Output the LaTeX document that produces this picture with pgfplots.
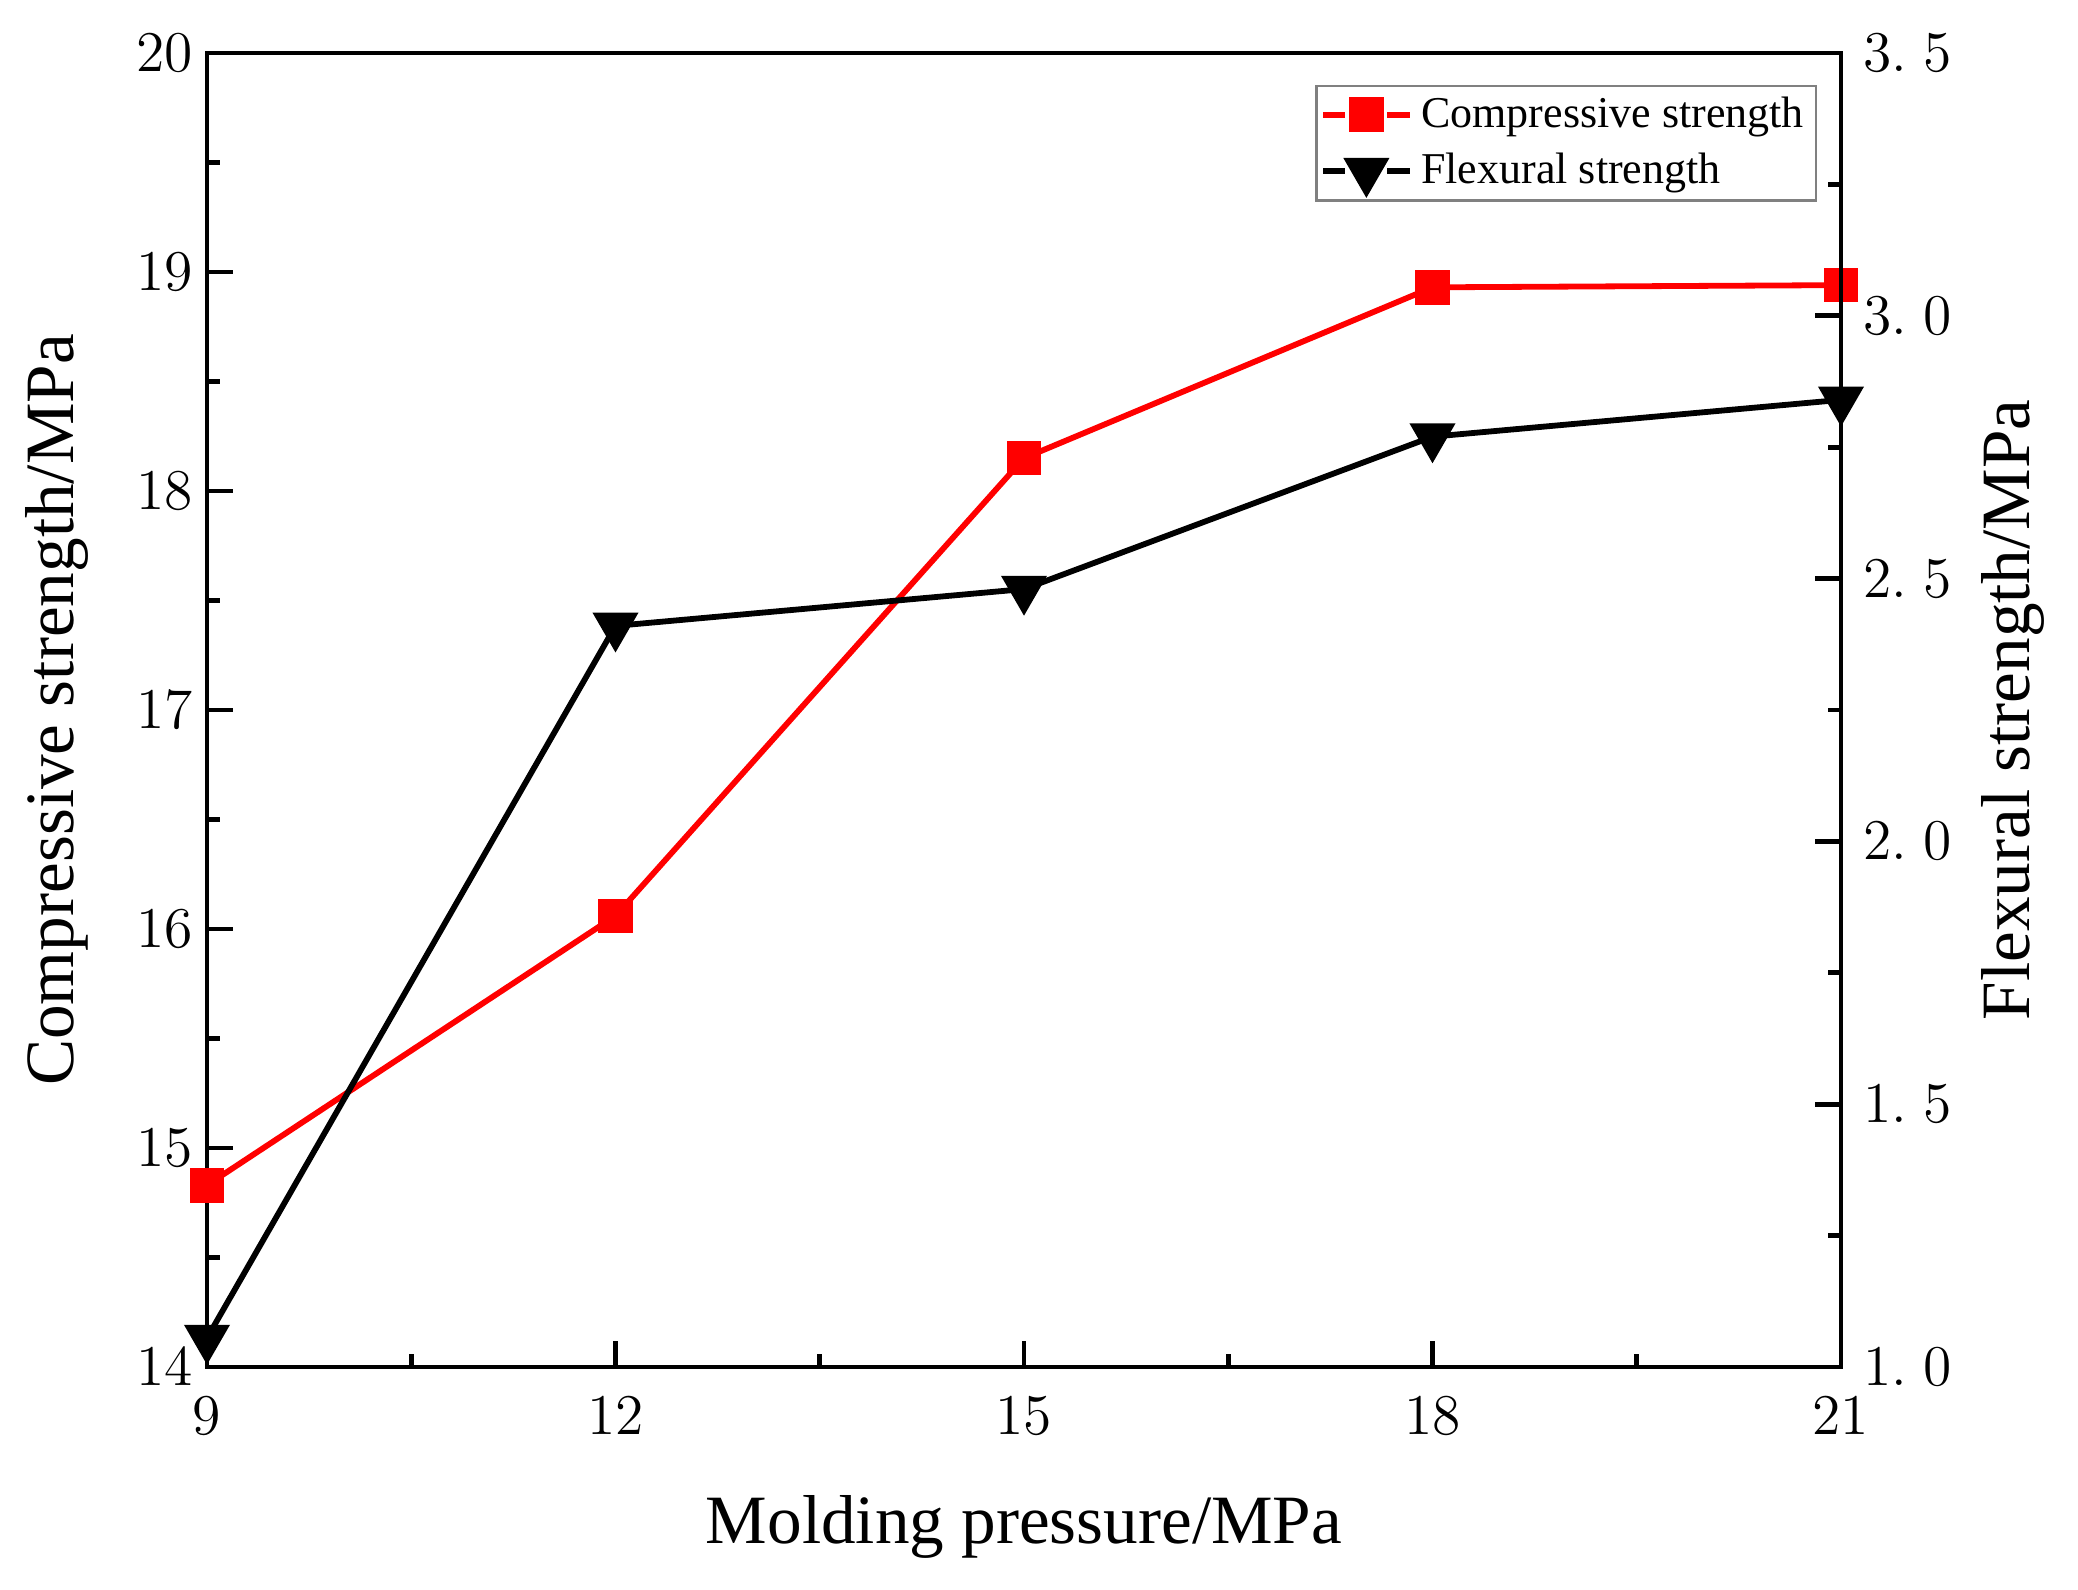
\documentclass[border=0pt]{standalone}
\usepackage{fontspec}
\setmainfont{Liberation Serif}
\usepackage{pgfplots}
\pgfplotsset{compat=1.18}
\begin{document}
\begin{tikzpicture}
\pgfplotsset{
  common/.style={
    scale only axis, width=408.5pt, height=328.5pt,
    xmin=9, xmax=21,
    axis line style={line width=1.2pt},
    every tick/.style={line width=1.2pt, black},
    major tick length=6.5pt, minor tick length=3.3pt,
    tick label style={font=\fontsize{14}{16}\selectfont},
    label style={font=\fontsize{17.3}{20}\selectfont},
    clip=false,
  },
  gapimg/.style={legend image code/.code={
    \draw[##1] (0pt,0pt) -- (5.5pt,0pt);
    \draw[##1] (16pt,0pt) -- (21.75pt,0pt);
    \draw[##1, only marks] plot coordinates {(10.75pt,0pt)};
  }},
}
\begin{axis}[common, name=main,
  ymin=14, ymax=20, ytick={14,...,20}, minor y tick num=1,
  xtick={9,12,15,18,21}, minor x tick num=1,
  tick pos=left, tick align=inside,
  xlabel={Molding pressure/MPa}, ylabel={Compressive strength/MPa},
  xlabel style={at={(axis description cs:0.5,-0.1218)}, anchor=center},
  ylabel style={at={(axis description cs:-0.0918,0.5)}, anchor=center},
  xticklabel style={yshift=-4pt},
]
\addplot[red, line width=1.45pt, mark=square*, mark size=3.6pt, mark options={solid}]
  coordinates {(9,14.83) (12,16.06) (15,18.15) (18,18.93) (21,18.94)};
\end{axis}
\begin{axis}[common, axis x line=none, axis y line*=right,
  ymin=1, ymax=3.5, ytick={1,1.5,2,2.5,3,3.5}, minor y tick num=1,
  tick align=inside,
  yticklabels={$1.\hskip0.3em0$,$1.\hskip0.3em5$,$2.\hskip0.3em0$,$2.\hskip0.3em5$,$3.\hskip0.3em0$,$3.\hskip0.3em5$},
  yticklabel style={xshift=2pt},
  ylabel={Flexural strength/MPa},
  ylabel style={at={(axis description cs:1.105,0.5)}, anchor=center},
  gapimg,
  legend style={at={(axis description cs:0.9853,0.976)}, anchor=north east,
    draw=gray, line width=0.6pt, font=\fontsize{11}{13}\selectfont,
    inner xsep=1pt, inner ysep=0.7pt, row sep=1pt, cells={anchor=west}},
]
\addlegendimage{red, line width=1.45pt, mark=square*, mark size=3.6pt, mark options={solid}}
\addlegendentry{Compressive strength}
\addplot[black, line width=1.45pt, mark=triangle*, mark size=5.2pt, mark options={solid, rotate=180}]
  coordinates {(9,1.055) (12,2.41) (15,2.48) (18,2.77) (21,2.84)};
\addlegendentry{Flexural strength}
\end{axis}
\pgfresetboundingbox
\path[use as bounding box] ([xshift=-51.75pt,yshift=-55.75pt]main.south west) rectangle ([xshift=59.25pt,yshift=13.25pt]main.north east);
\end{tikzpicture}
\end{document}
